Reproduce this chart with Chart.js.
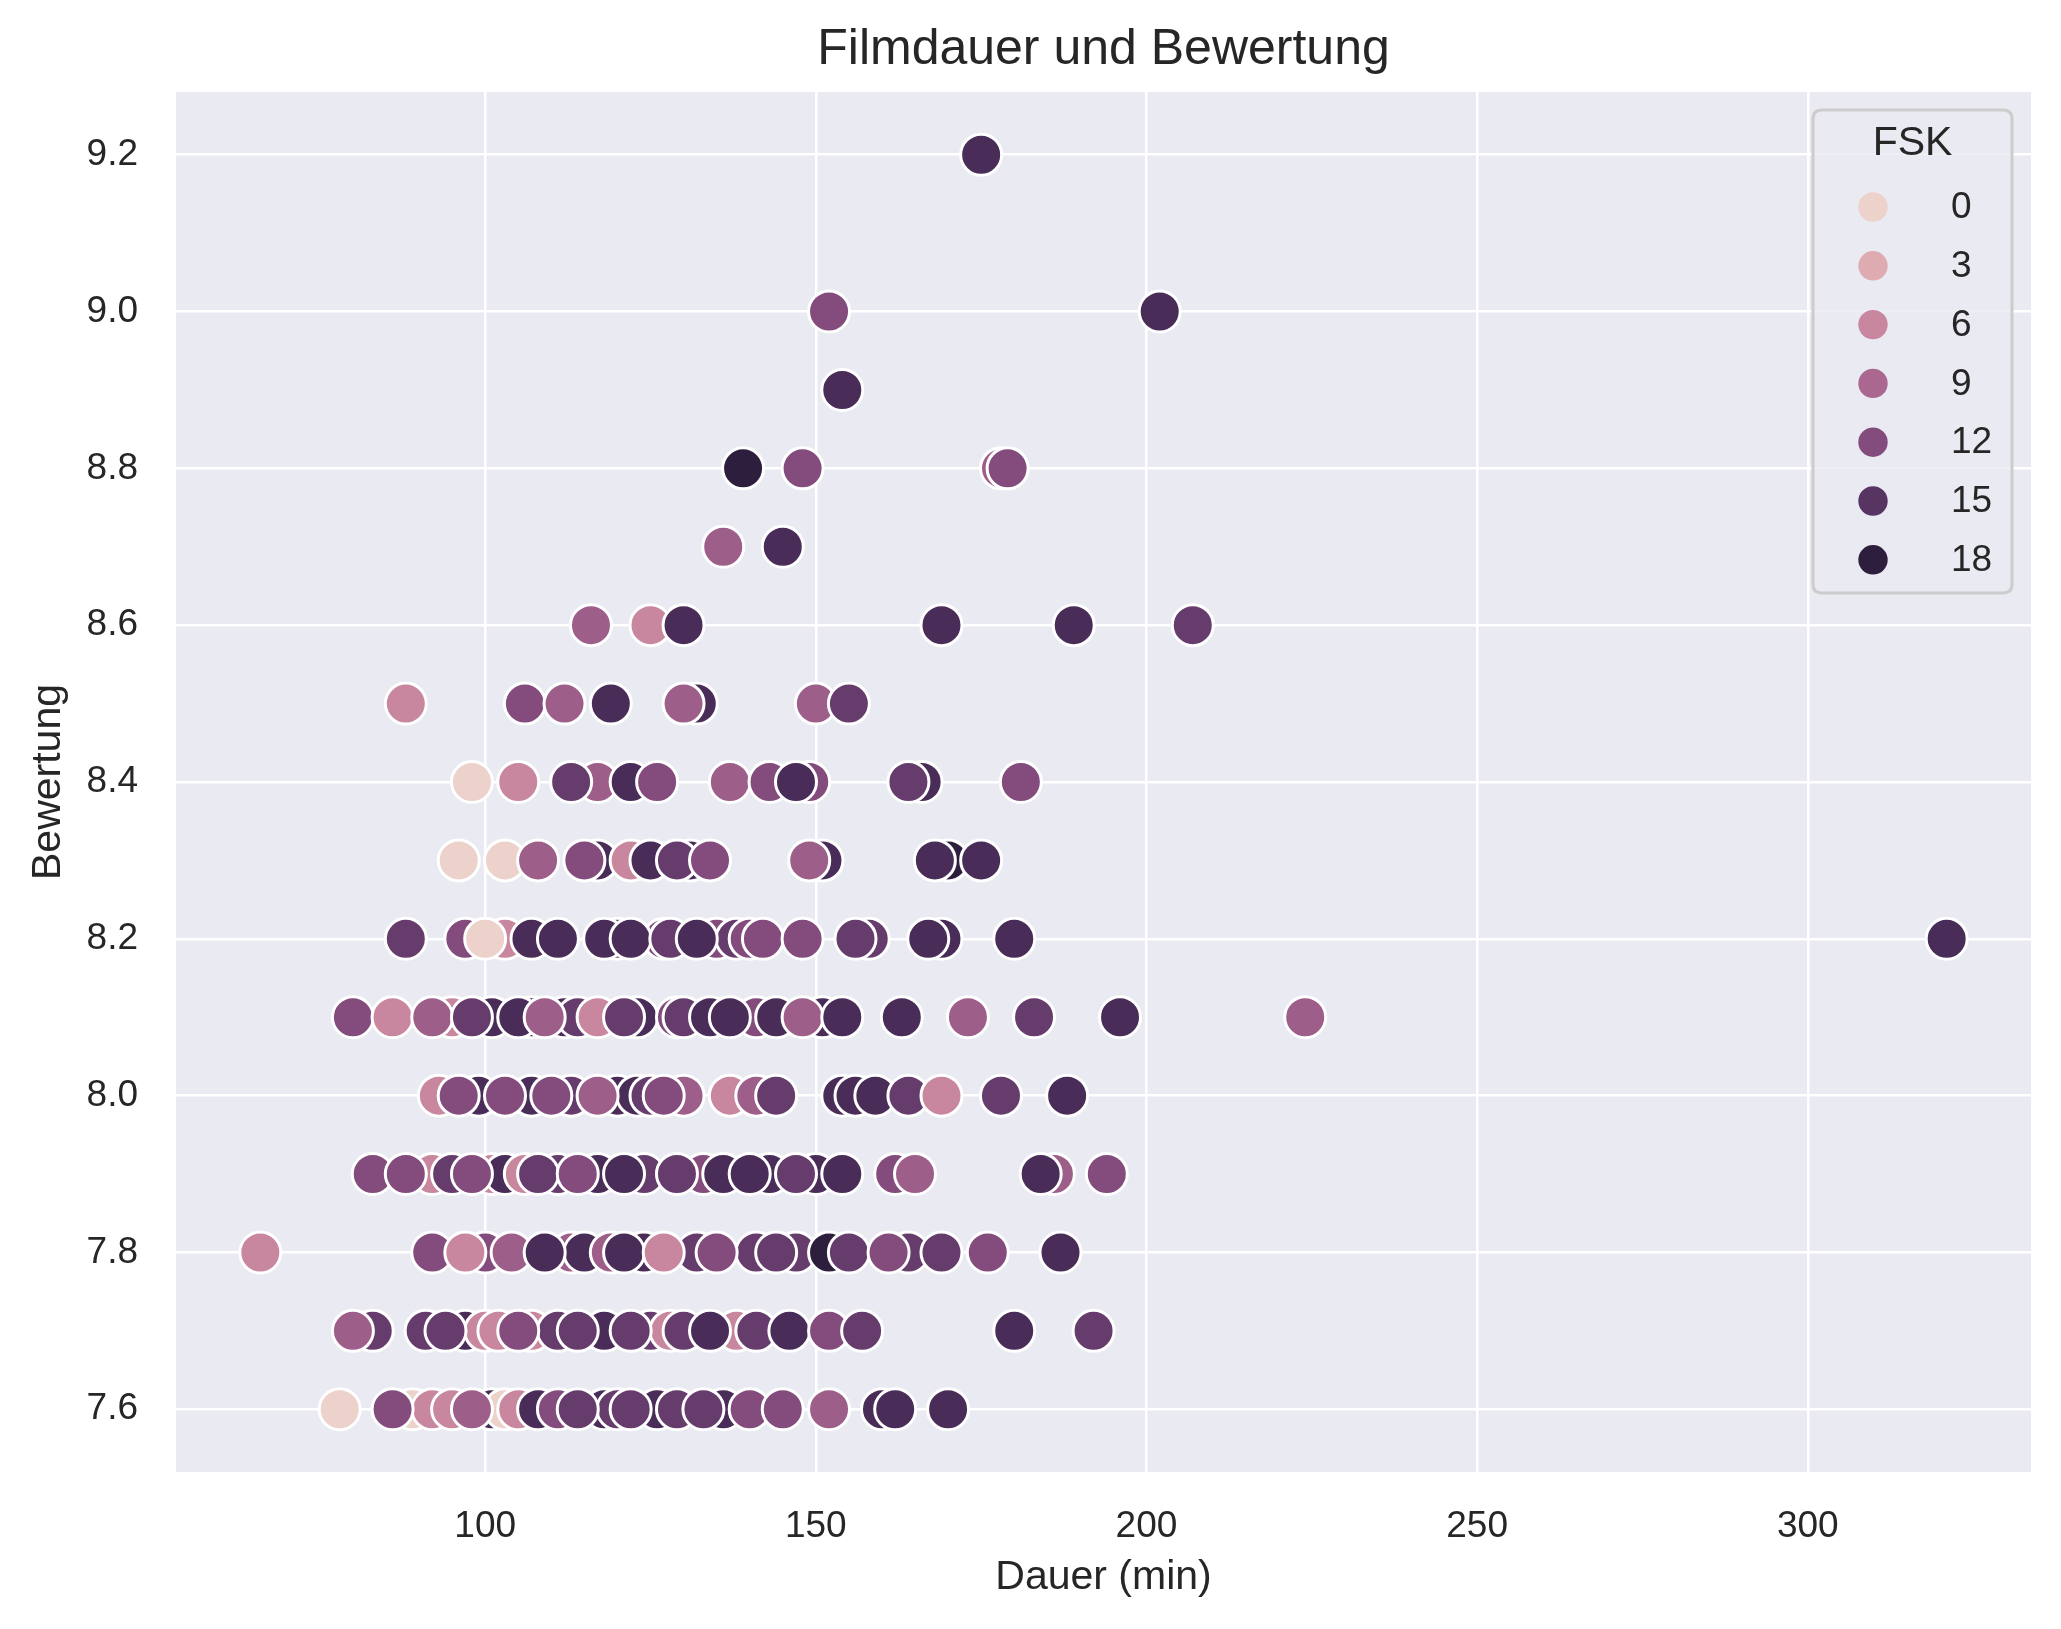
<!DOCTYPE html>
<html>
<head>
<meta charset="utf-8">
<script src="https://cdn.jsdelivr.net/npm/chart.js@4.4.1/dist/chart.umd.min.js"></script>
<style>
html,body{margin:0;padding:0;background:#ffffff;}
canvas{display:block;}
</style>
</head>
<body>
<canvas id="c" width="2061" height="1629"></canvas>
<script>
// ---------- DATA ----------
const titel = 'Filmdauer und Bewertung';
const bewertungsstufen = [9.2, 9.0, 8.9, 8.8, 8.7, 8.6, 8.5, 8.4, 8.3, 8.2, 8.1, 8.0, 7.9, 7.8, 7.7, 7.6];

// Dauer (min) per rating row; partially hidden points are listed first
const dauerJeStufe = [
  [175],
  [152, 202],
  [154],
  [178, 139, 148, 179],
  [136, 145],
  [116, 125, 130, 169, 189, 207],
  [132, 88, 106, 112, 119, 130, 150, 155],
  [117, 149, 166, 98, 105, 113, 122, 126, 137, 143, 147, 164, 181],
  [117, 131, 151, 170, 96, 103, 108, 115, 122, 125, 129, 134, 149, 168, 175],
  [103, 120, 127, 135, 138, 140, 158, 169, 88, 97, 100, 107, 111, 118, 122, 128, 132, 142, 148, 156, 167, 180, 321],
  [95, 101, 107, 112, 114, 123, 129, 130, 141, 151, 80, 86, 92, 98, 105, 109, 117, 121, 134, 137, 144, 148, 154, 163, 173, 183, 196, 224],
  [99, 107, 113, 120, 123, 125, 130, 154, 156, 93, 96, 103, 110, 117, 127, 137, 141, 144, 159, 164, 169, 178, 188],
  [92, 95, 101, 103, 106, 111, 117, 124, 133, 136, 143, 150, 162, 186, 83, 88, 98, 108, 114, 121, 129, 140, 147, 154, 165, 184, 194],
  [100, 113, 115, 119, 124, 132, 141, 147, 164, 66, 92, 97, 104, 109, 121, 127, 135, 144, 152, 155, 161, 169, 176, 187],
  [83, 97, 100, 107, 111, 118, 125, 128, 138, 80, 91, 94, 102, 105, 114, 122, 130, 134, 141, 146, 152, 157, 180, 192],
  [89, 92, 95, 101, 103, 105, 108, 118, 120, 126, 129, 136, 140, 160, 78, 86, 98, 111, 114, 122, 133, 145, 152, 162, 170]
];

// FSK per point (same order)
const fskJeStufe = [
  [16],
  [12, 16],
  [16],
  [10, 18, 12, 12],
  [10, 16],
  [10, 6, 16, 16, 16, 14],
  [16, 6, 12, 10, 16, 10, 10, 14],
  [10, 12, 16, 0, 6, 14, 16, 12, 10, 12, 16, 14, 12],
  [16, 16, 16, 18, 0, 0, 10, 12, 6, 16, 14, 12, 10, 16, 16],
  [6, 14, 12, 12, 14, 12, 14, 16, 14, 12, 0, 16, 16, 16, 16, 14, 16, 12, 12, 14, 16, 16, 16],
  [6, 16, 16, 16, 14, 16, 12, 14, 12, 16, 12, 6, 10, 14, 16, 10, 6, 14, 16, 16, 16, 10, 16, 16, 10, 14, 16, 10],
  [16, 16, 14, 16, 16, 14, 10, 16, 16, 6, 12, 12, 12, 10, 12, 6, 10, 14, 16, 14, 6, 14, 16],
  [6, 14, 6, 16, 6, 14, 16, 14, 12, 16, 16, 16, 12, 10, 12, 12, 12, 14, 12, 16, 14, 16, 14, 16, 10, 16, 12],
  [12, 10, 16, 10, 16, 14, 14, 14, 14, 6, 12, 6, 10, 16, 16, 6, 12, 14, 18, 14, 12, 14, 12, 16],
  [14, 16, 6, 6, 14, 16, 14, 6, 6, 10, 14, 14, 6, 12, 14, 14, 14, 16, 14, 16, 12, 14, 16, 14],
  [0, 6, 6, 16, 0, 6, 16, 16, 14, 16, 14, 16, 12, 16, 0, 12, 10, 12, 14, 14, 14, 12, 10, 16, 16]
];

const xTicks = [100, 150, 200, 250, 300];
const yTicks = [7.6, 7.8, 8.0, 8.2, 8.4, 8.6, 8.8, 9.0, 9.2];
const legendWerte = [0, 3, 6, 9, 12, 15, 18];
const fskMin = 0, fskMax = 18;

// ---------- STYLE ----------
const FONT = "'Liberation Sans', Arial, Helvetica, sans-serif";
const TEXT = '#262626';

// seaborn default cubehelix colormap (start=0, rot=.4, hue=.8, light=.85, dark=.15)
function cubehelix(t) {
  const x = 0.85 + (0.15 - 0.85) * t;
  const a = 0.8 * x * (1 - x) / 2;
  const phi = 2 * Math.PI * (0.4 * x);
  const c = Math.cos(phi), s = Math.sin(phi);
  const r = x + a * (-0.14861 * c + 1.78277 * s);
  const g = x + a * (-0.29227 * c - 0.90649 * s);
  const b = x + a * (1.97294 * c);
  const to = v => Math.round(Math.max(0, Math.min(1, v)) * 255);
  return `rgb(${to(r)},${to(g)},${to(b)})`;
}
const colorFor = v => cubehelix((v - fskMin) / (fskMax - fskMin));

// build points
const punkte = [];
const farben = [];
bewertungsstufen.forEach((y, i) => {
  dauerJeStufe[i].forEach((d, j) => {
    punkte.push({ x: d, y: y });
    farben.push(colorFor(fskJeStufe[i][j]));
  });
});

const bgPlugin = {
  id: 'bg',
  beforeDraw(chart) {
    const { ctx, chartArea: a } = chart;
    ctx.save();
    ctx.fillStyle = '#ffffff';
    ctx.fillRect(0, 0, chart.width, chart.height);
    ctx.fillStyle = '#eaeaf2';
    ctx.fillRect(a.left, a.top, a.right - a.left, a.bottom - a.top);
    ctx.restore();
  }
};

// title centred over the plot area (as matplotlib does)
const titlePlugin = {
  id: 'axTitle',
  afterDraw(chart) {
    const { ctx, chartArea: a } = chart;
    ctx.save();
    ctx.fillStyle = TEXT;
    ctx.font = `50px ${FONT}`;
    ctx.textAlign = 'center';
    ctx.textBaseline = 'middle';
    ctx.fillText(titel, (a.left + a.right) / 2, a.top - 42);
    ctx.restore();
  }
};

const legendPlugin = {
  id: 'fskLegend',
  afterDraw(chart) {
    const { ctx, chartArea: a } = chart;
    const W = 199, H = 483;
    const L = a.right - 19 - W, T = a.top + 18;
    ctx.save();
    const r = 9;
    ctx.beginPath();
    ctx.moveTo(L + r, T);
    ctx.lineTo(L + W - r, T);
    ctx.quadraticCurveTo(L + W, T, L + W, T + r);
    ctx.lineTo(L + W, T + H - r);
    ctx.quadraticCurveTo(L + W, T + H, L + W - r, T + H);
    ctx.lineTo(L + r, T + H);
    ctx.quadraticCurveTo(L, T + H, L, T + H - r);
    ctx.lineTo(L, T + r);
    ctx.quadraticCurveTo(L, T, L + r, T);
    ctx.closePath();
    ctx.fillStyle = 'rgba(234,234,242,0.8)';
    ctx.fill();
    ctx.lineWidth = 3;
    ctx.strokeStyle = '#cccccc';
    ctx.stroke();

    ctx.fillStyle = TEXT;
    ctx.font = `41px ${FONT}`;
    ctx.textAlign = 'center';
    ctx.textBaseline = 'middle';
    ctx.fillText('FSK', L + W / 2, T + 34);

    ctx.font = `37px ${FONT}`;
    ctx.textAlign = 'left';
    legendWerte.forEach((v, i) => {
      const cy = T + 97 + i * 58.8;
      ctx.beginPath();
      ctx.arc(L + 60, cy, 14.7, 0, Math.PI * 2);
      ctx.fillStyle = colorFor(v);
      ctx.fill();
      ctx.fillStyle = TEXT;
      ctx.fillText(String(v), L + 138, cy + 1);
    });
    ctx.restore();
  }
};

new Chart(document.getElementById('c'), {
  type: 'scatter',
  data: {
    datasets: [{
      label: 'FSK',
      data: punkte,
      pointBackgroundColor: farben,
      pointBorderColor: '#ffffff',
      pointBorderWidth: 3,
      pointRadius: 20.5,
      pointHoverRadius: 20.5,
      showLine: false
    }]
  },
  options: {
    responsive: false,
    devicePixelRatio: 1,
    animation: false,
    events: [],
    layout: { padding: { left: 0, right: 30, top: 92, bottom: 0 } },
    plugins: {
      legend: { display: false },
      tooltip: { enabled: false },
      title: { display: false }
    },
    scales: {
      x: {
        type: 'linear',
        min: 53.25,
        max: 333.75,
        afterBuildTicks: s => { s.ticks = xTicks.map(v => ({ value: v })); },
        afterFit: s => { s.height = 157; },
        grid: { color: '#ffffff', lineWidth: 2.5, drawTicks: false },
        border: { display: false },
        ticks: {
          color: TEXT, font: { family: FONT, size: 37 }, padding: 33,
          maxRotation: 0, autoSkip: false, callback: v => String(v)
        },
        title: {
          display: true, text: 'Dauer (min)', color: TEXT,
          font: { family: FONT, size: 41 }, padding: { top: 0, bottom: 27 }
        }
      },
      y: {
        type: 'linear',
        min: 7.52,
        max: 9.28,
        afterBuildTicks: s => { s.ticks = yTicks.map(v => ({ value: v })); },
        afterFit: s => { s.width = 176; },
        grid: { color: '#ffffff', lineWidth: 2.5, drawTicks: false },
        border: { display: false },
        ticks: {
          color: TEXT, font: { family: FONT, size: 37 }, padding: 38,
          autoSkip: false, callback: v => Number(v).toFixed(1)
        },
        title: {
          display: true, text: 'Bewertung', color: TEXT,
          font: { family: FONT, size: 41 }, padding: { top: 24, bottom: 0 }
        }
      }
    }
  },
  plugins: [bgPlugin, titlePlugin, legendPlugin]
});
</script>
</body>
</html>
